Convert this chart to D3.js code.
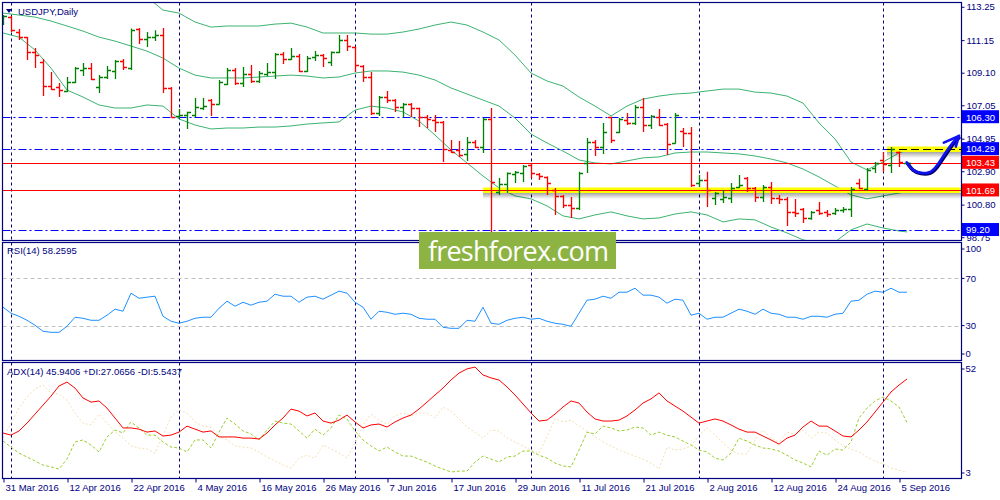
<!DOCTYPE html>
<html>
<head>
<meta charset="utf-8">
<script src="https://cdn.jsdelivr.net/npm/d3@7"></script>
<style>
  body { margin: 0; background: #fff; }
  text { font-family: "Liberation Sans", Arial, sans-serif; font-size: 9.5px; fill: #000080; }
</style>
</head>
<body>
<svg id="chart" width="1000" height="500"></svg>
<script>
// Daily bars, one per weekday from 31 Mar 2016 (index 0) to 6 Sep 2016 (index 113)
const opens = [112.22,112.60,111.66,111.34,110.40,109.77,108.26,108.20,107.95,108.51,
  109.27,109.39,108.20,108.83,109.21,109.83,109.39,111.85,111.22,111.34,
  111.47,108.14,106.38,106.44,106.44,106.88,107.38,107.13,108.39,109.27,
  108.45,109.02,108.58,109.02,109.14,110.27,109.96,110.15,109.21,110.09,
  110.21,109.77,110.40,111.16,110.72,109.52,108.83,106.56,107.57,107.38,
  106.94,107.13,106.88,106.31,106.12,106.00,104.24,104.24,103.99,104.74,
  104.43,106.19,101.60,102.10,102.73,102.79,103.29,102.73,102.54,101.72,
  101.35,100.78,100.59,103.42,104.74,104.43,106.31,105.37,106.12,105.94,
  106.94,105.81,106.31,105.87,104.68,105.43,105.31,102.16,102.35,101.22,
  101.16,101.22,101.91,102.48,101.85,101.28,101.91,101.22,101.16,100.34,
  100.53,99.96,100.46,100.34,100.28,100.46,100.53,102.16,101.79,103.11,
  103.61,103.29,104.11,103.41];
const highs = [112.73,112.67,111.85,111.34,110.65,109.96,109.14,108.45,108.83,109.46,
  109.71,109.71,108.95,109.52,109.90,109.96,111.88,111.91,111.66,111.78,
  111.91,108.20,106.82,106.65,107.51,107.51,107.44,108.64,109.39,109.39,
  109.46,109.58,109.21,109.71,110.34,110.40,110.65,110.27,110.15,110.46,
  110.27,110.43,111.47,111.47,110.75,109.58,109.14,107.63,107.95,107.44,
  107.19,107.19,106.90,106.44,106.44,106.06,104.87,104.80,105.05,104.87,
  106.25,106.88,102.48,102.82,102.92,103.29,103.42,102.79,102.57,101.85,
  101.41,101.28,102.86,104.99,104.87,105.94,106.33,106.25,106.56,107.07,
  107.51,106.44,106.82,105.94,106.56,105.62,105.68,102.67,102.86,101.60,
  101.72,102.16,102.67,102.54,101.91,102.04,102.23,101.41,101.28,101.16,
  100.59,100.40,100.97,100.46,100.59,100.65,101.91,102.42,103.11,103.48,
  104.11,104.43,104.14,103.48];
const lows = [112.10,111.66,111.16,109.90,109.39,107.63,108.01,107.57,107.88,108.45,
  108.89,108.64,107.82,108.70,108.70,109.27,109.27,110.90,110.72,111.09,
  107.82,106.28,106.25,105.56,106.31,106.75,106.38,107.10,108.33,108.33,
  108.20,108.45,108.45,108.89,108.70,109.65,109.90,109.14,109.14,109.83,
  109.46,109.52,110.34,110.46,109.14,108.51,106.44,106.38,107.19,106.63,
  106.31,106.31,105.68,105.62,105.37,103.48,104.05,103.80,103.55,104.36,
  104.05,99.08,101.41,101.53,102.16,102.23,102.48,102.35,101.41,100.15,
  100.59,99.96,100.46,102.79,103.86,103.99,104.68,105.31,105.81,105.81,
  105.37,105.56,105.75,103.92,104.65,104.43,101.91,101.91,100.65,100.78,
  100.90,100.90,101.85,101.60,100.97,100.97,100.84,100.84,99.46,100.02,
  99.65,99.84,100.15,100.02,100.15,100.28,100.02,101.79,101.72,102.79,
  102.86,102.79,103.17,103.40];
const closes = [112.67,111.78,111.34,110.40,110.21,108.26,108.07,108.01,108.51,109.39,
  109.39,108.70,108.83,109.27,109.83,109.46,111.80,111.22,111.34,111.47,
  108.14,106.33,106.44,106.60,106.94,107.00,107.13,108.51,109.27,108.45,
  109.02,108.58,109.08,109.14,110.27,109.96,110.15,109.21,110.02,110.21,
  110.02,110.40,111.16,110.78,109.58,108.83,106.56,107.57,107.38,106.94,
  107.13,106.88,106.31,106.19,106.00,104.30,104.11,103.92,104.74,104.43,
  106.19,102.23,102.10,102.76,102.86,103.23,102.79,102.60,102.16,101.35,
  100.78,100.59,102.79,104.74,104.43,105.37,104.87,106.19,105.94,106.94,
  105.81,106.38,105.81,104.61,106.44,105.31,102.04,102.35,101.72,101.53,
  101.28,101.85,102.04,101.85,101.28,101.91,101.22,101.16,100.34,100.28,
  99.96,100.34,100.28,100.21,100.46,100.53,101.79,101.85,102.98,103.42,
  103.36,104.30,103.48,103.43];

// Bollinger bands read every second bar (last value at bar 113)
const bbUpper = [114.11,114.11,114.68,115.31,116.06,115.87,115.62,115.31,114.68,113.86,
  113.04,112.85,112.29,111.97,112.04,112.04,112.04,112.16,112.22,111.97,
  111.60,111.60,111.60,111.53,111.53,111.66,111.85,112.10,112.29,112.10,
  111.66,111.16,110.21,109.08,108.58,108.26,107.57,107.00,106.38,107.00,
  107.44,107.63,107.76,107.82,107.95,108.07,108.07,107.88,107.82,107.63,
  107.19,105.94,104.93,103.48,102.98,103.48,104.05,104.24];
const bbMiddle = [112.85,112.73,112.60,112.35,112.04,111.72,111.34,111.09,110.78,110.46,
  110.02,109.39,108.95,108.77,108.77,108.77,108.83,108.89,108.95,108.89,
  108.77,108.83,109.08,109.21,109.21,109.14,108.95,108.64,108.14,107.76,
  107.38,107.00,106.25,105.24,104.68,104.17,103.61,103.42,103.36,103.55,
  103.74,103.80,104.05,104.11,104.11,104.05,103.99,103.86,103.67,103.42,
  103.04,102.54,101.97,101.41,101.16,101.35,101.53,101.60];
const bbLower = [111.60,111.34,110.53,109.39,108.01,107.57,107.07,106.88,106.88,107.07,
  107.00,106.19,105.81,105.56,105.62,105.62,105.68,105.68,105.75,105.87,
  105.94,106.00,106.75,107.00,106.88,106.63,106.06,105.18,104.24,103.42,
  102.60,101.85,101.35,101.16,100.72,100.09,99.90,100.15,100.34,100.09,
  99.90,99.96,100.21,100.34,100.15,99.71,99.90,99.84,99.39,99.02,
  98.58,98.39,98.45,99.21,99.58,99.33,99.14,99.08];

const rsi = [45.6,40.5,37.9,34.5,30.3,25.2,24.3,24.3,29.4,37.1,
  36.2,34.5,34.5,38.8,43.9,42.2,57.5,53.2,54.1,54.9,
  37.9,33.7,32.0,33.7,36.2,37.1,37.1,44.7,50.7,46.4,
  49.8,47.3,49.8,50.7,56.6,54.9,54.9,49.8,54.1,54.9,
  52.4,55.8,59.2,57.5,49.8,45.6,35.4,42.2,41.3,39.6,
  40.5,39.6,36.2,35.4,35.4,28.6,27.7,27.7,34.5,33.7,
  45.6,32.0,31.1,34.5,36.2,37.1,35.4,36.2,33.7,32.0,
  31.1,29.4,40.5,51.5,52.4,54.9,53.2,58.3,58.3,61.7,
  55.8,55.8,54.1,49.0,52.4,51.5,38.8,40.5,35.4,37.1,
  37.1,40.5,43.9,42.2,39.6,43.9,40.5,39.6,37.1,37.1,
  35.4,37.9,37.9,37.1,39.6,40.5,50.7,51.5,56.6,59.2,
  58.3,61.7,58.3,58.26];
const adx = [22.5,21.6,23.4,26.8,30.7,34.6,38.5,42.9,44.6,42.0,
  37.7,35.9,36.4,33.3,29.0,24.7,24.7,24.2,22.9,23.4,
  21.2,21.6,22.9,25.5,24.2,22.9,23.4,20.8,20.8,20.8,
  20.3,20.3,19.9,22.5,26.0,29.0,32.9,32.0,29.9,31.2,
  27.7,26.8,28.1,30.3,27.3,24.7,26.0,26.4,25.1,27.3,
  29.0,30.3,32.9,35.9,39.0,42.0,45.5,48.5,50.3,51.1,
  47.7,46.4,45.5,42.5,39.0,35.1,31.2,27.7,28.1,30.7,
  33.8,36.4,35.5,31.6,28.6,27.7,27.7,28.1,29.9,32.5,
  35.5,37.3,39.9,36.4,34.2,32.0,29.4,26.8,27.7,28.6,
  27.7,26.0,24.2,22.9,22.9,21.2,19.5,17.7,20.3,21.6,
  25.1,27.7,25.5,25.5,23.4,21.2,20.8,23.8,27.3,31.6,
  35.9,40.3,43.3,45.94];
const plusDI = [19.0,16.4,13.8,12.1,10.4,8.6,7.8,6.9,11.2,18.6,
  19.5,17.3,14.3,20.8,23.8,22.5,27.3,24.7,21.6,21.6,
  18.6,16.4,16.0,14.3,19.5,19.5,16.0,22.9,29.0,26.4,
  23.4,22.1,19.5,23.8,27.7,26.8,26.4,23.4,20.3,24.2,
  21.6,24.7,30.3,28.6,23.4,19.5,16.9,14.7,16.4,14.3,
  12.5,12.5,11.2,9.9,8.2,6.9,5.6,6.0,6.0,9.9,
  12.5,11.2,9.9,12.1,12.5,14.7,14.7,12.9,11.6,9.5,
  8.2,7.8,15.1,22.9,22.1,25.5,24.7,23.4,23.8,25.1,
  24.7,21.6,22.9,21.6,20.8,19.0,17.3,15.1,14.3,11.6,
  10.8,13.8,20.3,19.0,17.3,16.0,15.6,14.7,12.9,10.8,
  9.5,7.8,14.7,12.9,15.6,15.1,18.6,29.0,33.3,36.4,
  38.1,36.4,33.8,27.07];
const minusDI = [20.3,26.8,33.3,38.1,41.6,43.3,39.9,39.4,36.8,31.2,
  26.8,26.0,30.7,26.8,22.9,20.3,16.9,16.0,15.6,13.8,
  21.6,29.4,32.5,31.2,27.3,25.5,25.1,21.2,19.5,16.9,
  16.4,16.0,14.3,12.1,10.4,8.6,7.3,11.6,12.9,11.6,
  17.3,15.6,13.8,11.6,18.2,26.0,30.7,28.1,26.4,29.9,
  31.2,29.9,31.2,31.2,29.0,33.8,32.0,28.6,25.1,22.9,
  20.3,23.8,23.4,20.3,18.6,16.9,15.1,13.8,20.8,28.6,
  27.3,28.1,25.5,23.4,20.8,18.6,16.9,15.1,13.8,12.5,
  11.2,9.5,6.9,16.4,15.1,15.6,16.9,21.6,24.7,21.6,
  18.2,15.1,13.4,13.4,19.5,23.8,20.3,18.6,22.9,22.1,
  23.8,20.3,22.9,22.5,19.5,16.9,15.6,14.3,12.1,10.4,
  9.1,7.3,6.4,5.54];

// Axis labels
const dateIdx = [0, 8, 16, 24, 32, 40, 48, 56, 64, 72, 80, 88, 96, 104, 112];
const dateLabels = ["31 Mar 2016", "12 Apr 2016", "22 Apr 2016", "4 May 2016", "16 May 2016",
  "26 May 2016", "7 Jun 2016", "17 Jun 2016", "29 Jun 2016", "11 Jul 2016", "21 Jul 2016",
  "2 Aug 2016", "12 Aug 2016", "24 Aug 2016", "5 Sep 2016"];
const monthStartIdx = [1, 22, 44, 66, 87, 110];
const priceTicks = [113.25, 111.15, 109.10, 107.05, 104.95, 102.90, 100.80, 98.75];
const rsiTicks = [100, 70, 30, 0];
const rsiLevels = [70, 30];
const adxTicks = [52, 3];

// Drawn levels and the forecast arrow (bar index, price)
const blueLevels = [106.30, 104.29, 99.20];
const redLevels = [103.43, 101.69];
const priceBoxes = [
  {p: 106.30, c: "#0000ff"}, {p: 104.29, c: "#0000ff"}, {p: 103.43, c: "#ff0000"},
  {p: 101.69, c: "#ff0000"}, {p: 99.20, c: "#0000ff"}];
const highlights = [{p: 101.69, from: 60, line: "#ff0000"}, {p: 104.29, from: 110.5, line: "#000000"}];
const arrowPath = [[112.96, 103.46], [113.6, 102.98], [114.6, 102.77], [115.9, 102.77],
  [116.7, 103.19], [117.75, 104.03], [118.8, 104.76], [119.5, 105.12]];
const arrowHead = [[117.6, 104.70], [119.5, 105.12], [119.1, 104.45]];

const n = opens.length;
const bbIdx = d3.range(0, n - 1, 2).concat([n - 1]);
const L = 2.5, R = 961.5;
const panels = {main: [2.5, 240.5], rsi: [242.5, 360.5], adx: [362.5, 478.5]};
const navy = "#000080";

const x = d3.scaleLinear().domain([0, n - 1]).range([3, 907]);
const yP = d3.scaleLinear().domain([98.51, 113.55]).range([241, 2]);
const yR = d3.scaleLinear().domain([0, 100]).range([361, 243]);
const yA = d3.scaleLinear().domain([3, 52]).range([478, 365]);

const svg = d3.select("#chart");
const defs = svg.append("defs");
Object.entries(panels).forEach(([k, [t, b]]) => {
  defs.append("clipPath").attr("id", "clip-" + k)
    .append("rect").attr("x", L).attr("y", t).attr("width", R - L).attr("height", b - t);
});
const grad = defs.append("linearGradient").attr("id", "shade").attr("x1", 0).attr("x2", 0).attr("y1", 0).attr("y2", 1);
grad.append("stop").attr("offset", "0%").attr("stop-color", "#000").attr("stop-opacity", 0.35);
grad.append("stop").attr("offset", "100%").attr("stop-color", "#000").attr("stop-opacity", 0);

// Month grid lines through all panels
svg.append("g").selectAll("line").data(monthStartIdx).join("line")
  .attr("x1", d => Math.round(x(d)) + 0.5).attr("x2", d => Math.round(x(d)) + 0.5)
  .attr("y1", 2.5).attr("y2", 478.5)
  .attr("stroke", navy).attr("stroke-dasharray", "3,3");

// ---------- main panel ----------
const main = svg.append("g").attr("clip-path", "url(#clip-main)");

const bandLine = vals => d3.line().x((d, k) => x(bbIdx[k])).y(d => yP(d))(vals);
[bbUpper, bbMiddle, bbLower].forEach(vals => {
  main.append("path").attr("d", bandLine(vals))
    .attr("fill", "none").attr("stroke", "#3cb371").attr("stroke-width", 1);
});

// horizontal levels
main.selectAll(".blue").data(blueLevels).join("line")
  .attr("x1", L).attr("x2", R)
  .attr("y1", d => Math.round(yP(d)) + 0.5).attr("y2", d => Math.round(yP(d)) + 0.5)
  .attr("stroke", "#0000ff").attr("stroke-width", 1.2).attr("stroke-dasharray", "8,3,2,3");

// yellow highlights with shadow
highlights.forEach(h => {
  const yy = Math.round(yP(h.p)) + 0.5;
  main.append("rect").attr("x", x(h.from)).attr("y", yy + 2.5).attr("width", R - x(h.from)).attr("height", 6)
    .attr("fill", "url(#shade)");
  main.append("rect").attr("x", x(h.from)).attr("y", yy - 3).attr("width", R - x(h.from)).attr("height", 5.5)
    .attr("fill", "#ffff00");
  if (h.line === "#000000") {
    main.append("line").attr("x1", x(h.from)).attr("x2", R).attr("y1", yy).attr("y2", yy)
      .attr("stroke", "#000").attr("stroke-dasharray", "8,4");
  }
});

main.selectAll(".red").data(redLevels).join("line")
  .attr("x1", L).attr("x2", R)
  .attr("y1", d => Math.round(yP(d)) + 0.5).attr("y2", d => Math.round(yP(d)) + 0.5)
  .attr("stroke", "#ff0000").attr("stroke-width", 1.2);

// OHLC bars
const bar = main.append("g").selectAll("g").data(d3.range(n)).join("g")
  .attr("stroke", i => closes[i] >= opens[i] ? "#008000" : "#ff0000")
  .attr("stroke-width", 1.3);
bar.append("line")
  .attr("x1", i => Math.round(x(i)) + 0.5).attr("x2", i => Math.round(x(i)) + 0.5)
  .attr("y1", i => yP(highs[i])).attr("y2", i => yP(lows[i]));
bar.append("line")
  .attr("x1", i => Math.round(x(i)) - 3).attr("x2", i => Math.round(x(i)) + 0.5)
  .attr("y1", i => Math.round(yP(opens[i])) + 0.5).attr("y2", i => Math.round(yP(opens[i])) + 0.5);
bar.append("line")
  .attr("x1", i => Math.round(x(i)) + 0.5).attr("x2", i => Math.round(x(i)) + 4)
  .attr("y1", i => Math.round(yP(closes[i])) + 0.5).attr("y2", i => Math.round(yP(closes[i])) + 0.5);

// forecast arrow
const arrowLine = d3.line().x(d => x(d[0])).y(d => yP(d[1])).curve(d3.curveBasis);
svg.append("path").attr("d", arrowLine(arrowPath)).attr("fill", "none")
  .attr("stroke", "#000070").attr("stroke-width", 3.6).attr("transform", "translate(0.8,0.8)");
svg.append("path").attr("d", arrowLine(arrowPath)).attr("fill", "none")
  .attr("stroke", "#1010f0").attr("stroke-width", 2.6).attr("stroke-linecap", "round");
svg.append("path").attr("d", d3.line().x(d => x(d[0])).y(d => yP(d[1]))(arrowHead))
  .attr("fill", "none").attr("stroke", "#1010f0").attr("stroke-width", 2.6)
  .attr("stroke-linecap", "round").attr("stroke-linejoin", "round");

// header
svg.append("path").attr("d", "M6,9 L12,9 L9,13 Z").attr("fill", navy);
svg.append("text").attr("x", 18).attr("y", 15).text("USDJPY,Daily");

// price axis
const ax = svg.append("g").attr("transform", `translate(${R},0)`)
  .call(d3.axisRight(yP).tickValues(priceTicks).tickSize(3).tickSizeOuter(0).tickFormat(d3.format(".2f")));
ax.select(".domain").remove();
ax.selectAll("line").attr("stroke", navy);
ax.selectAll("text").attr("x", 5).attr("fill", navy)
  .style("font-family", '"Liberation Sans", Arial, sans-serif').style("font-size", "9.5px");

// price boxes
const box = svg.append("g").selectAll("g").data(priceBoxes).join("g")
  .attr("transform", d => `translate(${R + 0.5},${yP(d.p)})`);
box.append("rect").attr("x", 0).attr("y", -7).attr("width", 37).attr("height", 13).attr("fill", d => d.c);
box.append("text").attr("x", 4).attr("dy", "0.35em").style("fill", "#fff").text(d => d.p.toFixed(2));

// ---------- RSI panel ----------
const rsiG = svg.append("g").attr("clip-path", "url(#clip-rsi)");
rsiG.selectAll("line").data(rsiLevels).join("line")
  .attr("x1", L).attr("x2", R).attr("y1", d => Math.round(yR(d)) + 0.5).attr("y2", d => Math.round(yR(d)) + 0.5)
  .attr("stroke", "#c0c0c0").attr("stroke-dasharray", "4,3");
rsiG.append("path").datum(rsi)
  .attr("d", d3.line().x((d, i) => x(i)).y(d => yR(d)))
  .attr("fill", "none").attr("stroke", "#1e90ff").attr("stroke-width", 1);
svg.append("text").attr("x", 7).attr("y", 254).text("RSI(14) 58.2595");
svg.append("g").selectAll("text").data(rsiTicks).join("text")
  .attr("x", R + 4).attr("y", d => yR(d) + (d === 100 ? 6 : d === 0 ? -7 : 0)).attr("dy", "0.35em")
  .text(d => d);
svg.append("g").selectAll("line").data(rsiTicks).join("line")
  .attr("x1", R).attr("x2", R + 3).attr("y1", d => yR(d) + (d === 100 ? 6 : d === 0 ? -7 : 0))
  .attr("y2", d => yR(d) + (d === 100 ? 6 : d === 0 ? -7 : 0)).attr("stroke", navy);

// ---------- ADX panel ----------
const adxG = svg.append("g").attr("clip-path", "url(#clip-adx)");
const idxLine = yScale => d3.line().x((d, i) => x(i)).y(d => yScale(d));
adxG.append("path").datum(minusDI).attr("d", idxLine(yA))
  .attr("fill", "none").attr("stroke", "#f5deb3").attr("stroke-width", 1).attr("stroke-dasharray", "2,2");
adxG.append("path").datum(plusDI).attr("d", idxLine(yA))
  .attr("fill", "none").attr("stroke", "#9acd32").attr("stroke-width", 1).attr("stroke-dasharray", "3,2");
adxG.append("path").datum(adx).attr("d", idxLine(yA))
  .attr("fill", "none").attr("stroke", "#ff0000").attr("stroke-width", 1);
svg.append("text").attr("x", 7).attr("y", 375).text("ADX(14) 45.9406 +DI:27.0656 -DI:5.5437");
svg.append("g").selectAll("text").data(adxTicks).join("text")
  .attr("x", R + 4).attr("y", d => yA(d) + (d === 52 ? 4 : -5)).attr("dy", "0.35em").text(d => d);
svg.append("g").selectAll("line").data(adxTicks).join("line")
  .attr("x1", R).attr("x2", R + 3).attr("y1", d => yA(d) + (d === 52 ? 4 : -5))
  .attr("y2", d => yA(d) + (d === 52 ? 4 : -5)).attr("stroke", navy);

// panel frames
Object.values(panels).forEach(([t, b]) => {
  svg.append("rect").attr("x", L).attr("y", t).attr("width", R - L).attr("height", b - t)
    .attr("fill", "none").attr("stroke", navy).attr("stroke-width", 1.2);
});

// date axis
const dx = svg.append("g").attr("transform", "translate(0,478.5)")
  .call(d3.axisBottom(x).tickValues(dateIdx).tickSize(4).tickFormat((d, k) => dateLabels[k]));
dx.select(".domain").remove();
dx.selectAll("line").attr("stroke", navy).attr("transform", "translate(0.5,0)");
dx.selectAll("text").attr("text-anchor", "start").attr("x", 2).attr("y", 6).attr("fill", navy)
  .style("font-family", '"Liberation Sans", Arial, sans-serif').style("font-size", "9.5px");

// watermark
svg.append("rect").attr("x", 419).attr("y", 232).attr("width", 197).attr("height", 37).attr("fill", "#8db443");
svg.append("text").attr("x", 428).attr("y", 261).attr("textLength", 181)
  .style("font-family", '"Open Sans", "Noto Sans", sans-serif').style("font-size", "27px").style("fill", "#fff")
  .text("freshforex.com");
</script>
</body>
</html>
